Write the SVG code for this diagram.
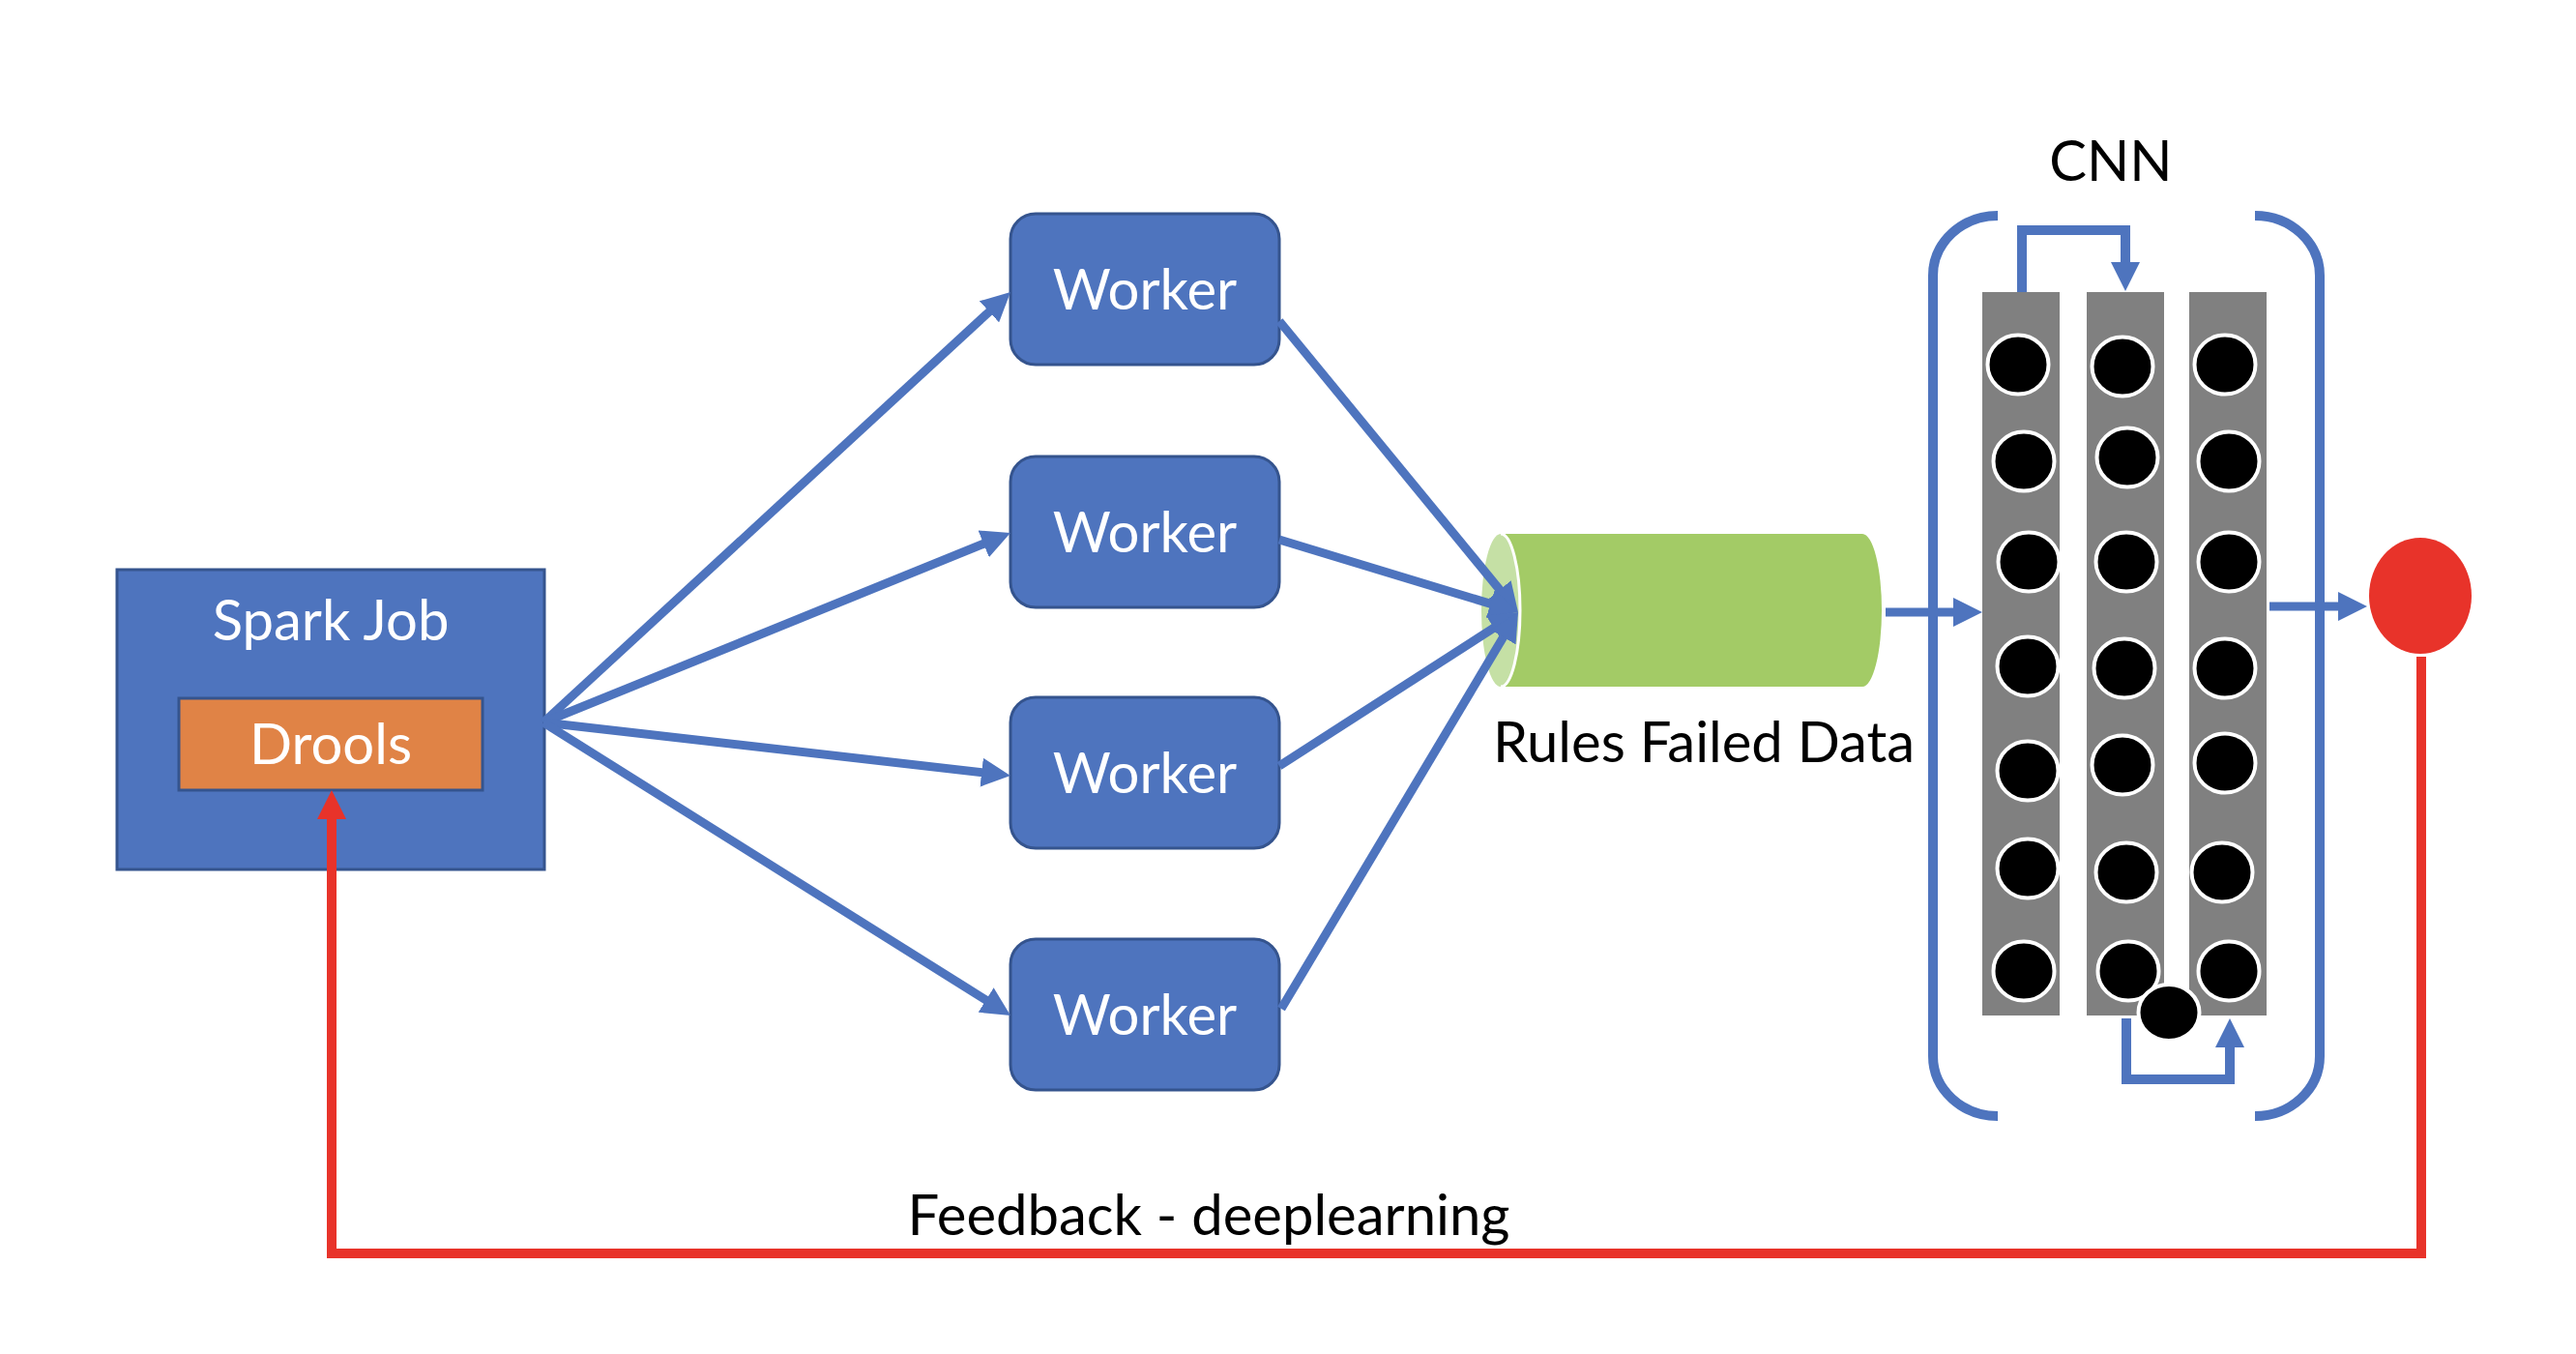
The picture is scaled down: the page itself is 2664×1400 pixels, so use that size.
<svg xmlns="http://www.w3.org/2000/svg" width="2664" height="1400" viewBox="0 0 2664 1400">
<style>
.box{fill:#4E74BE;stroke:#35548E;stroke-width:3}
.wtext{font-family:Lato,"Liberation Sans",sans-serif;font-size:58px;fill:#FFFFFF;text-anchor:middle}
.btext{font-family:Lato,"Liberation Sans",sans-serif;font-size:58px;fill:#000000;text-anchor:middle}
.conn{fill:none;stroke:#4E74BE;stroke-width:9}
.cnnline{fill:none;stroke:#4E74BE;stroke-width:10}
.red{fill:none;stroke:#E8332A;stroke-width:10}
.col{fill:#808080}
.neuron{fill:#000000;stroke:#FFFFFF;stroke-width:4}
</style>
<defs>
<marker id="ab" markerUnits="userSpaceOnUse" viewBox="0 0 30 30" markerWidth="30" markerHeight="30" refX="12" refY="15" orient="auto">
<path d="M0,0 L30,15 L0,30 Z" fill="#4E74BE"/>
</marker>
<marker id="ar" markerUnits="userSpaceOnUse" viewBox="0 0 30 30" markerWidth="30" markerHeight="30" refX="12" refY="15" orient="auto">
<path d="M0,0 L30,15 L0,30 Z" fill="#E8332A"/>
</marker>
</defs>
<rect width="2664" height="1400" fill="#FFFFFF"/>

<g id="spark-job">
<rect class="box" x="121" y="589" width="442" height="310"/>
<text class="wtext" x="342" y="662">Spark Job</text>
</g>
<g id="drools">
<rect x="185" y="722" width="314" height="95" fill="#E08346" stroke="#35548E" stroke-width="3"/>
<text class="wtext" x="342" y="790">Drools</text>
</g>

<g id="worker-1">
<rect class="box" x="1045" y="221" width="278" height="156" rx="26"/>
<text class="wtext" x="1184" y="320">Worker</text>
</g>
<g id="worker-2">
<rect class="box" x="1045" y="472" width="278" height="156" rx="26"/>
<text class="wtext" x="1184" y="571">Worker</text>
</g>
<g id="worker-3">
<rect class="box" x="1045" y="721" width="278" height="156" rx="26"/>
<text class="wtext" x="1184" y="820">Worker</text>
</g>
<g id="worker-4">
<rect class="box" x="1045" y="971" width="278" height="156" rx="26"/>
<text class="wtext" x="1184" y="1070">Worker</text>
</g>

<g id="rules-failed-data">
<ellipse cx="1552" cy="631" rx="20" ry="79" fill="#C5E0A5"/>
<path d="M1552,552 L1926,552 A20,79 0 0 1 1926,710 L1552,710 A20,79 0 0 0 1552,552 Z" fill="#A3CB66"/>
<path d="M1552,552 A20,79 0 0 1 1552,710" fill="none" stroke="#FFFFFF" stroke-width="3"/>
<text class="btext" x="1762" y="788">Rules Failed Data</text>
</g>

<g id="cnn">
<text class="btext" x="2183" y="187">CNN</text>
<path class="cnnline" d="M2066,223 A67,62 0 0 0 1999,285 L1999,1092 A67,62 0 0 0 2066,1154"/>
<path class="cnnline" d="M2332,223 A67,62 0 0 1 2399,285 L2399,1092 A67,62 0 0 1 2332,1154"/>
<rect class="col" x="2050" y="302" width="80" height="748"/>
<rect class="col" x="2158" y="302" width="80" height="748"/>
<rect class="col" x="2264" y="302" width="80" height="748"/>
<g>
<ellipse class="neuron" cx="2087" cy="377" rx="31.5" ry="30.5"/>
<ellipse class="neuron" cx="2093" cy="477" rx="31.5" ry="30.5"/>
<ellipse class="neuron" cx="2098" cy="581" rx="31.5" ry="30.5"/>
<ellipse class="neuron" cx="2097" cy="689" rx="31.5" ry="30.5"/>
<ellipse class="neuron" cx="2097" cy="797" rx="31.5" ry="30.5"/>
<ellipse class="neuron" cx="2097" cy="898" rx="31.5" ry="30.5"/>
<ellipse class="neuron" cx="2093" cy="1004" rx="31.5" ry="30.5"/>
<ellipse class="neuron" cx="2195" cy="379" rx="31.5" ry="30.5"/>
<ellipse class="neuron" cx="2200" cy="473" rx="31.5" ry="30.5"/>
<ellipse class="neuron" cx="2199" cy="581" rx="31.5" ry="30.5"/>
<ellipse class="neuron" cx="2197" cy="691" rx="31.5" ry="30.5"/>
<ellipse class="neuron" cx="2195" cy="791" rx="31.5" ry="30.5"/>
<ellipse class="neuron" cx="2199" cy="902" rx="31.5" ry="30.5"/>
<ellipse class="neuron" cx="2201" cy="1004" rx="31.5" ry="30.5"/>
<ellipse class="neuron" cx="2301" cy="377" rx="31.5" ry="30.5"/>
<ellipse class="neuron" cx="2305" cy="477" rx="31.5" ry="30.5"/>
<ellipse class="neuron" cx="2305" cy="581" rx="31.5" ry="30.5"/>
<ellipse class="neuron" cx="2301" cy="691" rx="31.5" ry="30.5"/>
<ellipse class="neuron" cx="2301" cy="789" rx="31.5" ry="30.5"/>
<ellipse class="neuron" cx="2298" cy="902" rx="31.5" ry="30.5"/>
<ellipse class="neuron" cx="2305" cy="1004" rx="31.5" ry="30.5"/>
<ellipse class="neuron" cx="2243" cy="1047" rx="31.5" ry="29"/>
</g>
<path class="cnnline" d="M2091,302 L2091,238 L2198,238 L2198,271"/>
<path d="M2183,271 L2213,271 L2198,301 Z" fill="#4E74BE"/>
<path class="cnnline" d="M2199,1053 L2199,1116 L2306,1116 L2306,1083"/>
<path d="M2291,1083 L2321,1083 L2306,1053 Z" fill="#4E74BE"/>
</g>

<g id="output-node">
<ellipse cx="2503" cy="616" rx="53" ry="60" fill="#E8332A"/>
</g>

<g id="connectors">
<line class="conn" x1="562" y1="747" x2="1031.8" y2="314.2" marker-end="url(#ab)"/>
<line class="conn" x1="562" y1="747" x2="1028.3" y2="557.8" marker-end="url(#ab)"/>
<line class="conn" x1="562" y1="747" x2="1027.1" y2="800" marker-end="url(#ab)"/>
<line class="conn" x1="562" y1="747" x2="1029.8" y2="1040.4" marker-end="url(#ab)"/>
<line class="conn" x1="1323" y1="332" x2="1558.6" y2="619.1" marker-end="url(#ab)"/>
<line class="conn" x1="1323" y1="558" x2="1552.8" y2="627.8" marker-end="url(#ab)"/>
<line class="conn" x1="1323" y1="792" x2="1554.9" y2="642.7" marker-end="url(#ab)"/>
<line class="conn" x1="1325" y1="1043" x2="1560.8" y2="648.5" marker-end="url(#ab)"/>
<line class="conn" x1="1950" y1="633" x2="2032" y2="633" marker-end="url(#ab)"/>
<line class="conn" x1="2347" y1="627" x2="2430" y2="627" marker-end="url(#ab)"/>
<path class="red" d="M2504,679 L2504,1296 L343,1296 L343,835" marker-end="url(#ar)"/>
<text class="btext" x="1250" y="1277">Feedback - deeplearning</text>
</g>
</svg>
